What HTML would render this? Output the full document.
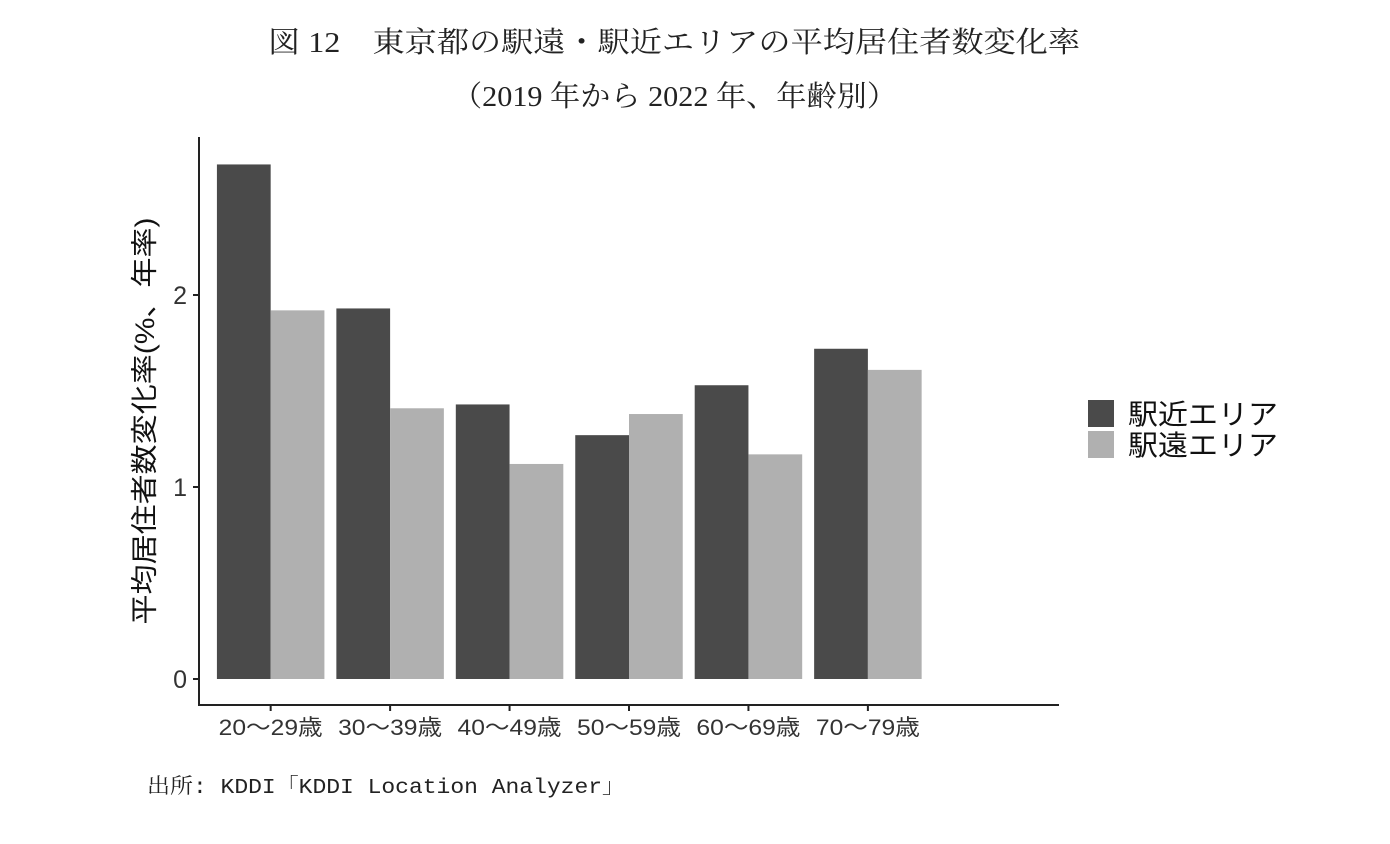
<!DOCTYPE html>
<html><head><meta charset="utf-8">
<style>
body{margin:0;background:#fff;width:1390px;height:844px;overflow:hidden;}
svg{display:block}
.serif{font-family:"Liberation Serif","Noto Serif CJK SC",serif;}
.sans{font-family:"Liberation Sans","Noto Sans CJK JP",sans-serif;}
.mono{font-family:"Liberation Mono","Noto Serif CJK SC",monospace;}
</style></head><body>
<svg id="chart" width="1390" height="844">
<text class="serif" x="268" y="52" font-size="29" textLength="812" lengthAdjust="spacingAndGlyphs" fill="#222">図 12　東京都の駅遠・駅近エリアの平均居住者数変化率</text>
<text class="serif" x="452" y="106" font-size="29" textLength="445" lengthAdjust="spacingAndGlyphs" fill="#222">（2019 年から 2022 年、年齢別）</text>
<g id="plot"></g>
<text class="sans" transform="translate(154,421) rotate(-90)" font-size="27" text-anchor="middle" textLength="407" lengthAdjust="spacingAndGlyphs" fill="#111">平均居住者数変化率(%、年率)</text>
<rect x="1088" y="400" width="26" height="27" fill="#4a4a4a"/>
<text class="sans" x="1128" y="424" font-size="28" textLength="150" lengthAdjust="spacingAndGlyphs" fill="#111">駅近エリア</text>
<rect x="1088" y="431" width="26" height="27" fill="#b0b0b0"/>
<text class="sans" x="1128" y="455" font-size="28" textLength="150" lengthAdjust="spacingAndGlyphs" fill="#111">駅遠エリア</text>
<text class="mono" x="147" y="793" font-size="21" textLength="478" lengthAdjust="spacingAndGlyphs" fill="#222">出所: KDDI「KDDI Location Analyzer」</text>
</svg>
<script>
const categories=["20〜29歳","30〜39歳","40〜49歳","50〜59歳","60〜69歳","70〜79歳"];
const nearValues=[2.68,1.93,1.43,1.27,1.53,1.72];
const farValues=[1.92,1.41,1.12,1.38,1.17,1.61];
const yTicks=[0,1,2];
const NS="http://www.w3.org/2000/svg";
const g=document.getElementById('plot');
const x0=199,x1=1059,y0=679,pxPerUnit=192;
const unit=(x1-x0)/(categories.length+1.2);
const xc=i=>x0+(i+0.6)*unit;
const y=v=>y0-v*pxPerUnit;
function mk(t,a){const e=document.createElementNS(NS,t);for(const k in a)e.setAttribute(k,a[k]);g.appendChild(e);return e;}
const bw=unit*0.45;
categories.forEach((c,i)=>{
 let r=mk('rect',{x:xc(i)-bw,y:y(nearValues[i]),width:bw,height:y0-y(nearValues[i]),fill:'#4a4a4a'});
 
 
 let r2=mk('rect',{x:xc(i),y:y(farValues[i]),width:bw,height:y0-y(farValues[i]),fill:'#b0b0b0'});
 
 
 let tk=mk('line',{x1:xc(i),x2:xc(i),y1:705,y2:711,stroke:'#222','stroke-width':2});
 
 
 let t=mk('text',{x:xc(i),y:735,'font-size':22,'text-anchor':'middle',textLength:104,lengthAdjust:'spacingAndGlyphs',fill:'#333',class:'sans'});
 t.textContent=c;
 
 
});
yTicks.forEach(v=>{
 let tk=mk('line',{x1:193,x2:199,y1:y(v),y2:y(v),stroke:'#222','stroke-width':2});
 
 
 let t=mk('text',{x:187,y:y(v)+9,'font-size':25,'text-anchor':'end',fill:'#333',class:'sans'});
 t.textContent=v;
 
 
});
let ya=mk('line',{x1:199,x2:199,y1:137,y2:705,stroke:'#222','stroke-width':2});


let xa=mk('line',{x1:198,x2:1059,y1:705,y2:705,stroke:'#222','stroke-width':2});


</script>
</body></html>
